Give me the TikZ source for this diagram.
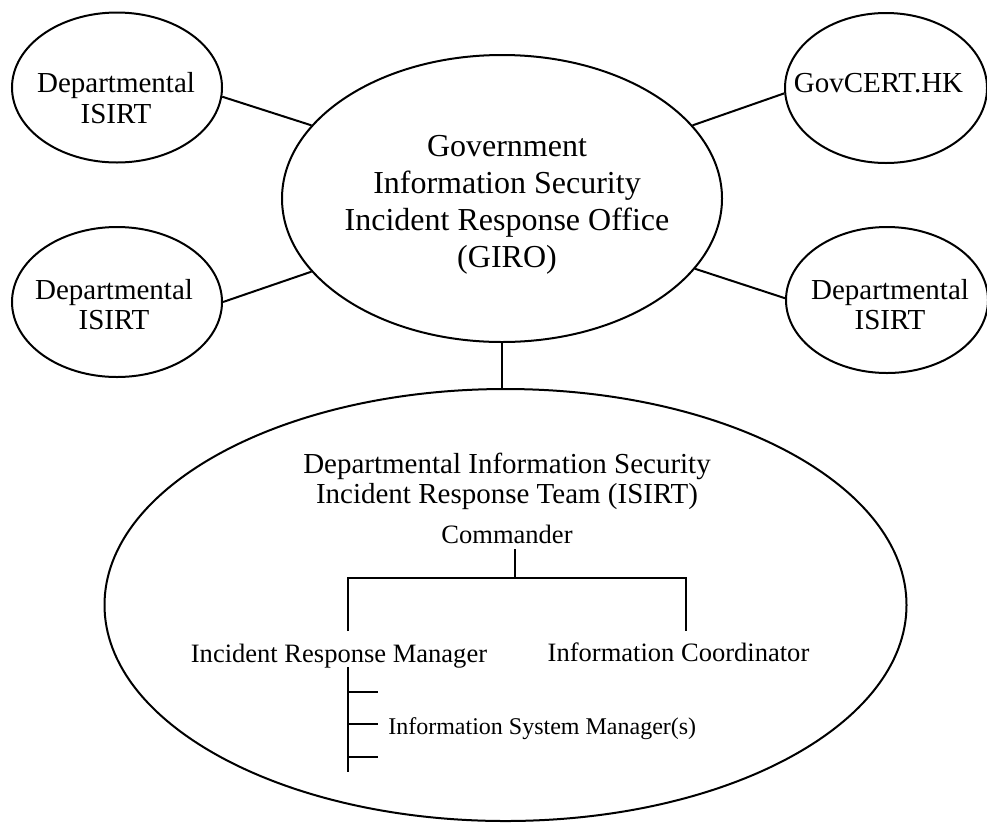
\documentclass[tikz,border=0pt]{standalone}
\usepackage{fontspec}
\setmainfont{Liberation Serif}
\usetikzlibrary{shapes.geometric}
\begin{document}
\begin{tikzpicture}[x=0.75pt,y=-0.75pt,
  oval/.style={draw, ellipse, line width=1.5pt, inner sep=0pt},
  link/.style={line width=1.5pt},
  thinlink/.style={line width=0.8pt},
  treeline/.style={line width=1.8pt},
  lbl/.style={inner sep=0pt, align=center, font=\fontsize{21.75}{23}\selectfont},
  girolbl/.style={inner sep=0pt, align=center, font=\fontsize{24}{27.75}\selectfont},
  titlelbl/.style={inner sep=0pt, align=center, font=\fontsize{21.75}{22.5}\selectfont},
  rolelbl/.style={inner sep=0pt, font=\fontsize{19.9}{22}\selectfont},
  smalllbl/.style={inner sep=0pt, font=\fontsize{18}{20}\selectfont}
]
\useasboundingbox (0,0) rectangle (987,822);

% ellipses
\node[oval, minimum width=157.5pt, minimum height=112.5pt] (tl) at (117,87.5) {};
\node[oval, minimum width=330pt, minimum height=215.25pt] (giro) at (502,198.5) {};
\node[oval, minimum width=151.5pt, minimum height=112.5pt] (tr) at (886,88) {};
\node[oval, minimum width=157.5pt, minimum height=112.5pt] (ml) at (117,302) {};
\node[oval, minimum width=151.5pt, minimum height=109.5pt] (mr) at (887,300) {};
\node[oval, minimum width=601.5pt, minimum height=324pt] (big) at (505.5,605) {};

% texts
\node[lbl] (tlt) at (116,98) {Departmental\\ISIRT};
\node[lbl] (mlt) at (114,304.6) {Departmental\\ISIRT};
\node[lbl] (mrt) at (890,304.6) {Departmental\\ISIRT};
\node[lbl, anchor=base] (trt) at (878.5,92) {GovCERT.HK};
\node[girolbl] (girot) at (507,205) {Government\\Information Security\\Incident Response Office\\(GIRO)};
\node[titlelbl] (bigt) at (507,481.2) {Departmental Information Security\\Incident Response Team (ISIRT)};
\node[rolelbl, anchor=base] (cmd) at (507,543) {Commander};
\node[rolelbl, anchor=base] (irm) at (339,662) {Incident Response Manager};
\node[rolelbl, anchor=base] (ic) at (678.5,661) {Information Coordinator};
\node[smalllbl, anchor=base west] (ism) at (388,734) {Information System Manager(s)};

% connectors between ellipses
\draw[link] (tl.-5) -- (giro.159);
\draw[link] (giro.21.5) -- (tr.183);
\draw[link] (ml.0) -- (giro.201);
\draw[link] (giro.-20) -- (mr.179);
\draw[thinlink] (giro.south) -- (giro.south |- big.north);

% tree inside ISIRT
\coordinate (c0) at (515,549);
\coordinate (c1) at (515,578);
\coordinate (l1) at (348,578);
\coordinate (l2) at (348,631);
\coordinate (r1) at (686,578);
\coordinate (r2) at (686,631);
\coordinate (m0) at (348,667);
\coordinate (m1) at (348,772);
\coordinate (t1) at (348,692);
\coordinate (t2) at (348,724);
\coordinate (t3) at (348,757);
\coordinate (e1) at (378,692);
\coordinate (e2) at (378,724);
\coordinate (e3) at (378,757);
\draw[treeline] (c0) -- (c1);
\draw[treeline] (l2) -- (l1) -- (r1) -- (r2);
\draw[treeline] (m0) -- (m1);
\draw[treeline] (t1) -- (e1);
\draw[treeline] (t2) -- (e2);
\draw[treeline] (t3) -- (e3);
\end{tikzpicture}
\end{document}
